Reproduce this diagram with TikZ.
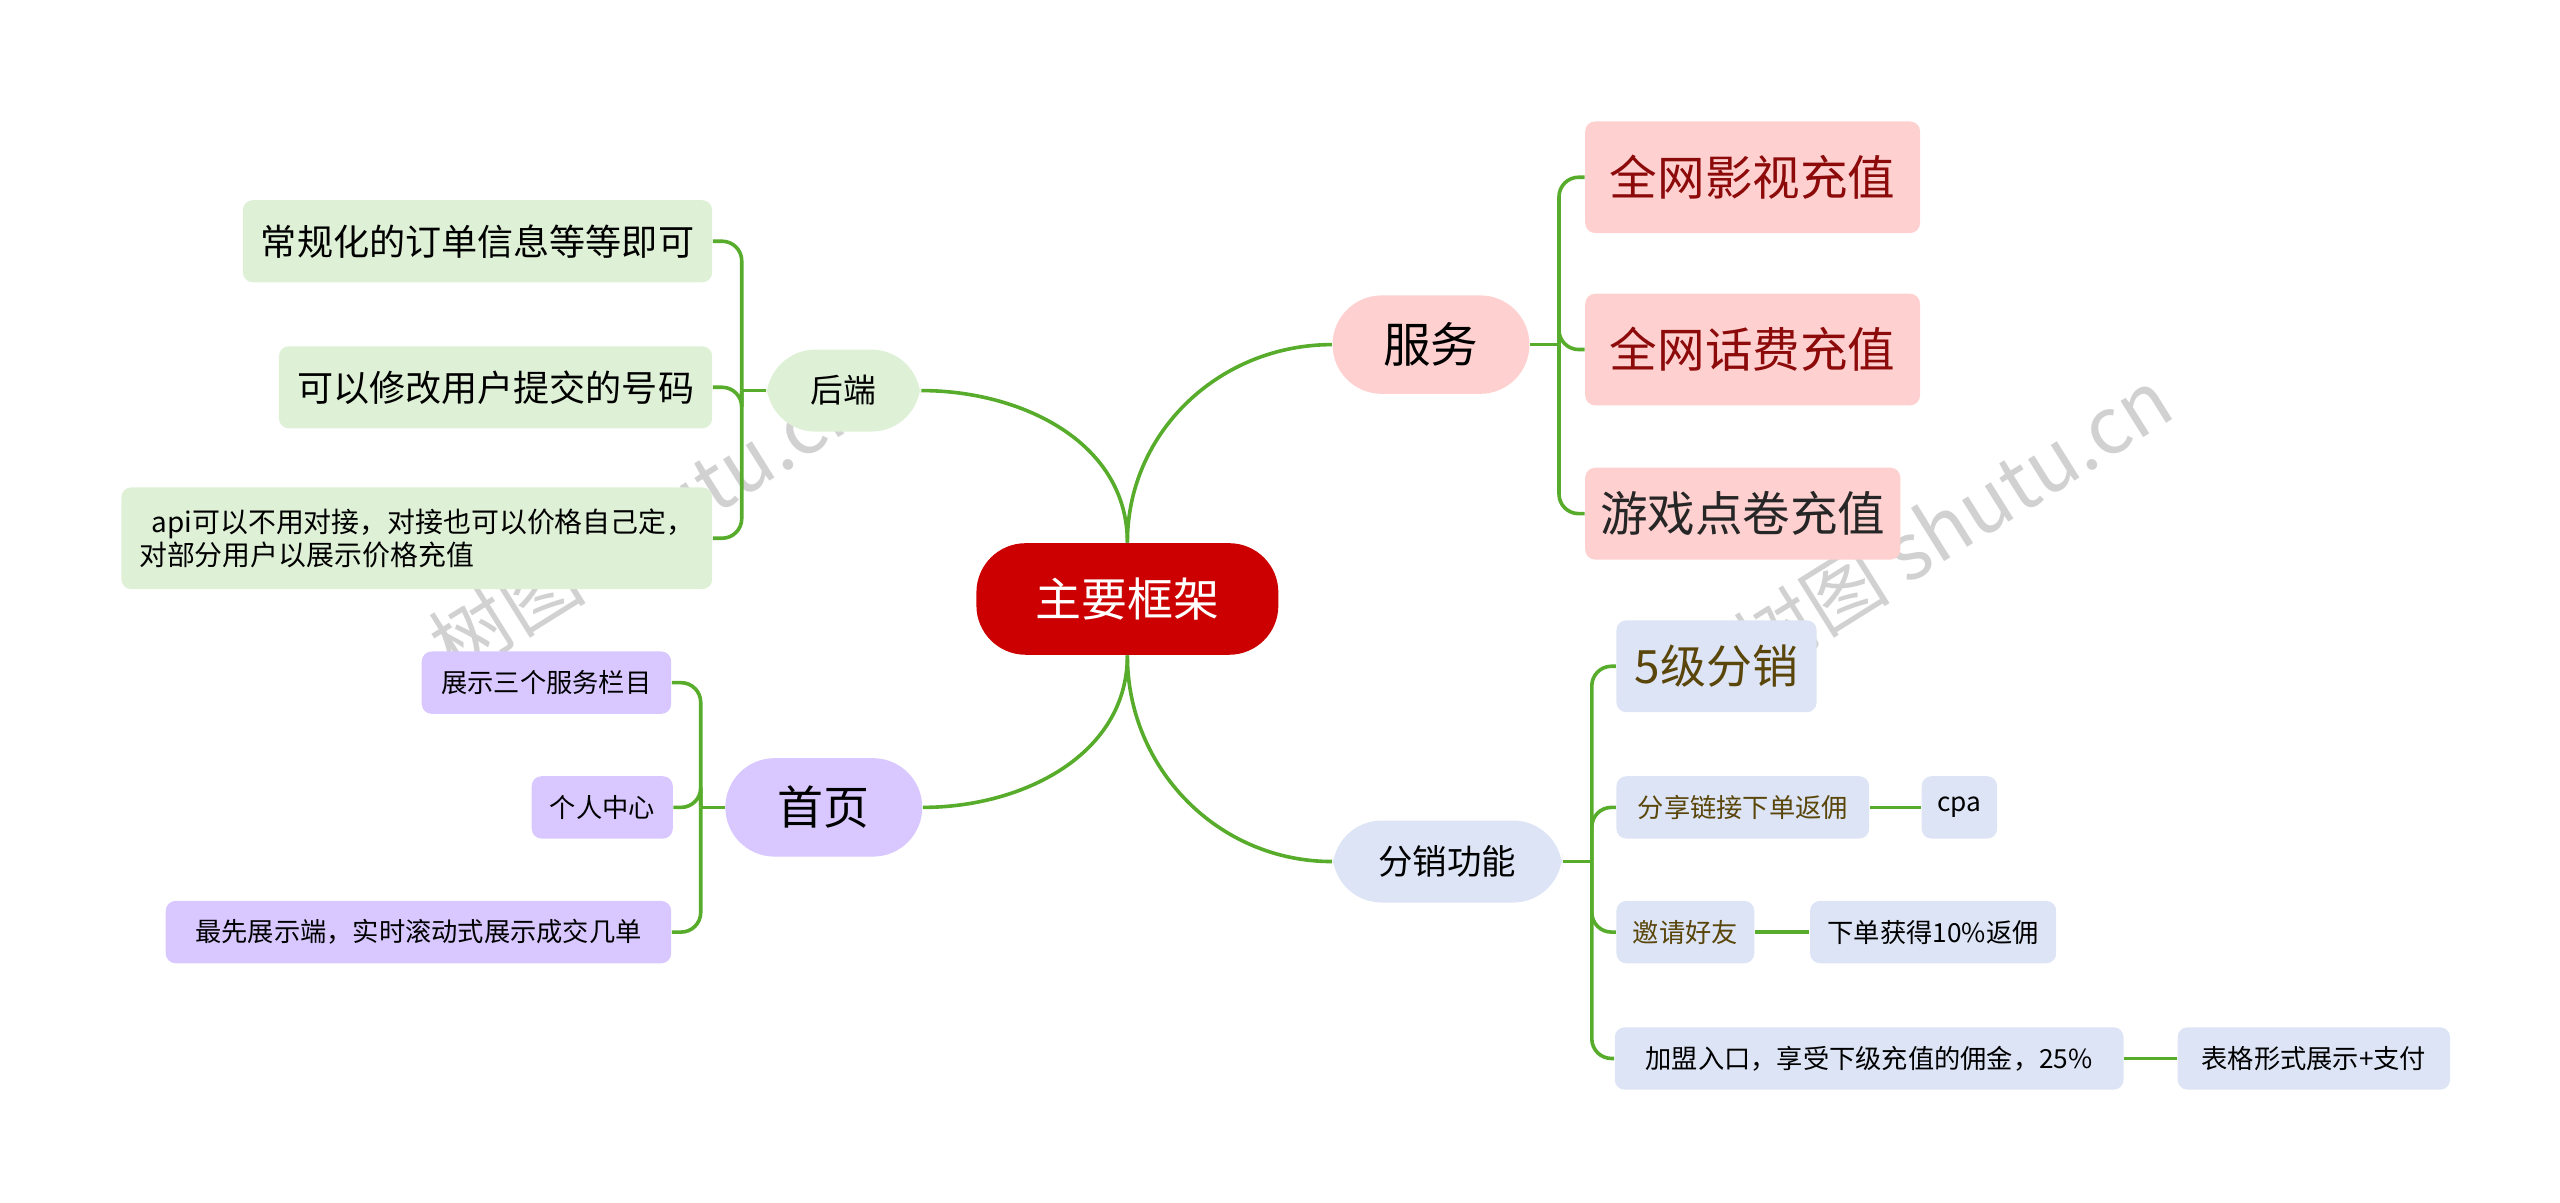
\documentclass[tikz,border=0pt]{standalone}
\usepackage{fontspec}
\setmainfont{Noto Sans CJK SC}
\usetikzlibrary{positioning}
\definecolor{lnk}{RGB}{88,172,44}
\definecolor{rootred}{RGB}{204,0,0}
\definecolor{pinkbg}{RGB}{255,208,208}
\definecolor{greenbg}{RGB}{222,240,214}
\definecolor{purplebg}{RGB}{216,200,255}
\definecolor{bluebg}{RGB}{220,228,245}
\definecolor{darkred}{RGB}{140,10,10}
\definecolor{olive}{RGB}{90,70,10}
\tikzset{
	fsize/.style={font=\fontsize{#1}{#1}\selectfont}
}
\begin{document}
\begin{tikzpicture}[x=0.5pt, y=-0.5pt,
pill/.style = {rounded corners=15pt, inner sep=0pt, align=center},
root/.style = {pill, fill=rootred, text=white, minimum width=92pt, minimum height=34pt, fsize=14},
leaf/.style = {rounded corners=3pt, inner sep=0pt, align=center},
link/.style = {draw=lnk, line width=1.1pt},
bracket/.style = {link, rounded corners=6pt}
]
\useasboundingbox (0,0) rectangle (1560,733);

% watermark
\node[rotate=32, text=black!18, fsize=24] (wm1) at (395,318) {树图 shutu.cn};
\node[rotate=32, text=black!18, fsize=24] (wm2) at (1190,318) {树图 shutu.cn};

\node [root] (root) at (687,365) {主要框架};

% right side: services
\node [pill, fill=pinkbg, minimum width=60pt, minimum height=30pt, fsize=14.5] (fw) at (872,210) {服务};
\node [leaf, fill=pinkbg, text=darkred, minimum width=102pt, minimum height=34pt, fsize=14.5] (fw1) at (1068,108) {全网影视充值};
\node [leaf, fill=pinkbg, text=darkred, minimum width=102pt, minimum height=34pt, fsize=14.5] (fw2) at (1068,213) {全网话费充值};
\node [leaf, fill=pinkbg, text=black!85, minimum width=96pt, minimum height=28pt, fsize=14.5] (fw3) at (1062,313) {游戏点卷充值};

% right side: distribution
\node [pill, fill=bluebg, minimum width=70pt, minimum height=25pt, fsize=10.5] (fx) at (882,525) {分销功能};
\node [leaf, fill=bluebg, text=olive, minimum width=61pt, minimum height=28pt, fsize=14] (fx1) at (1046,406) {5级分销};
\node [leaf, fill=bluebg, text=olive, minimum width=77pt, minimum height=19pt, fsize=8] (fx2) at (1062,492) {分享链接下单返佣};
\node [leaf, fill=bluebg, minimum width=23pt, minimum height=19pt, fsize=8] (fx2a) at (1194,492) {cpa};
\node [leaf, fill=bluebg, text=olive, minimum width=42pt, minimum height=19pt, fsize=8] (fx3) at (1027,568) {邀请好友};
\node [leaf, fill=bluebg, minimum width=75pt, minimum height=19pt, fsize=8] (fx3a) at (1178,568) {下单获得10\%返佣};
\node [leaf, fill=bluebg, minimum width=155pt, minimum height=19pt, fsize=8] (fx4) at (1139,645) {加盟入口，享受下级充值的佣金，25\%};
\node [leaf, fill=bluebg, minimum width=83pt, minimum height=19pt, fsize=8] (fx4a) at (1410,645) {表格形式展示+支付};

% left side: backend
\node [pill, fill=greenbg, minimum width=47pt, minimum height=25pt, fsize=10] (hd) at (514,238) {后端};
\node [leaf, fill=greenbg, minimum width=143pt, minimum height=25pt, fsize=11] (hd1) at (291,147) {常规化的订单信息等等即可};
\node [leaf, fill=greenbg, minimum width=132pt, minimum height=25pt, fsize=11] (hd2) at (302,236) {可以修改用户提交的号码};
\node [leaf, fill=greenbg, minimum width=180pt, minimum height=31pt, fsize=8.5, align=left] (hd3) at (254,328) {\ \ api可以不用对接，对接也可以价格自己定，\\对部分用户以展示价格充值};

% left side: home page
\node [pill, fill=purplebg, minimum width=60pt, minimum height=30pt, fsize=14] (sy) at (502,492) {首页};
\node [leaf, fill=purplebg, minimum width=76pt, minimum height=19pt, fsize=8] (sy1) at (333,416) {展示三个服务栏目};
\node [leaf, fill=purplebg, minimum width=43pt, minimum height=19pt, fsize=8] (sy2) at (367,492) {个人中心};
\node [leaf, fill=purplebg, minimum width=154pt, minimum height=19pt, fsize=8] (sy3) at (255,568) {最先展示端，实时滚动式展示成交几单};

% main branches
\draw [link] (root.north) to[out=90, in=180] (fw.west);
\draw [link] (root.south) to[out=-90, in=180] (fx.west);
\draw [link] (hd.east) to[out=0, in=90] (root.north);
\draw [link] (sy.east) to[out=0, in=-90] (root.south);

% brackets
\draw [link] (fw.east) -- (950,210) coordinate (fwb);
\foreach \c in {fw1,fw2,fw3}
    \draw [bracket] (fwb) |- (\c.west);

\draw [link] (fx.east) -- (970,525) coordinate (fxb);
\foreach \c in {fx1,fx2,fx3,fx4}
    \draw [bracket] (fxb) |- (\c.west);
\draw [link] (fx2.east) -- (fx2a.west);
\draw [link] (fx3.east) -- (fx3a.west);
\draw [link] (fx4.east) -- (fx4a.west);

\draw [link] (hd.west) -- (452,238) coordinate (hdb);
\foreach \c in {hd1,hd2,hd3}
    \draw [bracket] (hdb) |- (\c.east);

\draw [link] (sy.west) -- (427,492) coordinate (syb);
\foreach \c in {sy1,sy2,sy3}
    \draw [bracket] (syb) |- (\c.east);

\end{tikzpicture}
\end{document}
